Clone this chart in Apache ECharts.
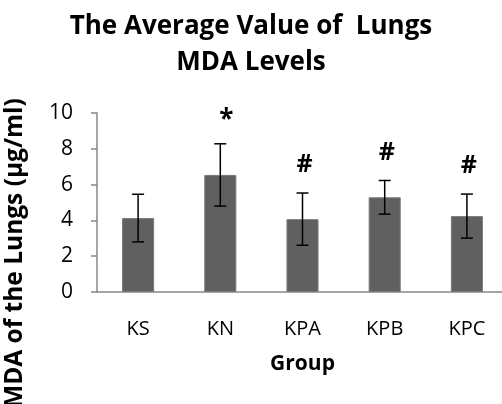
<!DOCTYPE html>
<html>
<head>
<meta charset="utf-8">
<script src="https://cdn.jsdelivr.net/npm/echarts@6/dist/echarts.min.js"></script>
<style>
  html, body { margin: 0; padding: 0; background: #fff; }
  #chart { width: 502px; height: 404px; }
</style>
</head>
<body>
<div id="chart"></div>
<script>
// data
var groups = ['KS', 'KN', 'KPA', 'KPB', 'KPC']
var means = [4.13, 6.54, 4.07, 5.29, 4.24]
var errors = [1.33, 1.74, 1.46, 0.94, 1.23]
var marks = ['', '*', '#', '#', '#']

var font = '"Open Sans", "Liberation Sans", sans-serif'
var chart = echarts.init(document.getElementById('chart'))

var option = {
  animation: false,
  title: {
    text: 'The Average Value of  Lungs\nMDA Levels',
    left: 'center',
    top: 4,
    textStyle: {
      fontFamily: font,
      fontWeight: 'bold',
      fontSize: 26,
      lineHeight: 36,
      color: '#000'
    }
  },
  graphic: [
    {
      type: 'text',
      x: 15,
      y: 253,
      rotation: Math.PI / 2,
      style: {
        text: 'MDA of the Lungs (µg/ml)',
        fontFamily: font,
        fontWeight: 'bold',
        fontSize: 24.5,
        fill: '#000',
        textAlign: 'center',
        textVerticalAlign: 'middle'
      }
    }
  ],
  grid: {
    left: 97,
    top: 113,
    width: 411,
    height: 179,
    outerBoundsMode: 'none'
  },
  xAxis: {
    type: 'category',
    data: groups,
    name: 'Group',
    nameLocation: 'middle',
    nameGap: 62,
    nameTextStyle: { fontFamily: font, fontWeight: 'bold', fontSize: 21, color: '#000' },
    axisLine: { lineStyle: { color: '#888', width: 1.5 } },
    axisTick: { length: 9, lineStyle: { color: '#888', width: 1.5 } },
    axisLabel: { margin: 27, fontFamily: font, fontSize: 20, color: '#000' }
  },
  yAxis: {
    type: 'value',
    min: 0,
    max: 10,
    interval: 2,
    splitLine: { show: false },
    axisLine: { show: true, lineStyle: { color: '#888', width: 1.5 } },
    axisTick: { show: true, length: 6, lineStyle: { color: '#888', width: 1.5 } },
    axisLabel: { margin: 24, fontFamily: font, fontSize: 21, color: '#000' }
  },
  series: [
    {
      type: 'bar',
      data: means,
      barWidth: '39%',
      itemStyle: { color: '#606060', borderColor: '#7a7a7a', borderWidth: 1 }
    },
    {
      type: 'custom',
      data: means.map(function (m, i) { return [i, m - errors[i], m + errors[i]] }),
      renderItem: function (params, api) {
        var i = api.value(0)
        var lo = api.coord([i, api.value(1)])
        var hi = api.coord([i, api.value(2)])
        var cap = 6
        var style = { stroke: '#000', lineWidth: 1.5 }
        var star = marks[i] === '*'
        return {
          type: 'group',
          children: [
            { type: 'line', shape: { x1: hi[0], y1: hi[1], x2: lo[0], y2: lo[1] }, style: style },
            { type: 'line', shape: { x1: hi[0] - cap, y1: hi[1], x2: hi[0] + cap, y2: hi[1] }, style: style },
            { type: 'line', shape: { x1: lo[0] - cap, y1: lo[1], x2: lo[0] + cap, y2: lo[1] }, style: style },
            {
              type: 'text',
              x: hi[0] + (star ? 6 : 2),
              y: hi[1] - (star ? 23 : 28),
              style: {
                text: marks[i],
                fontFamily: font,
                fontWeight: 'bold',
                fontSize: star ? 26 : 25,
                fill: '#000',
                textAlign: 'center',
                textVerticalAlign: 'middle'
              }
            }
          ]
        }
      },
      z: 10
    }
  ]
}

chart.setOption(option)
</script>
</body>
</html>
